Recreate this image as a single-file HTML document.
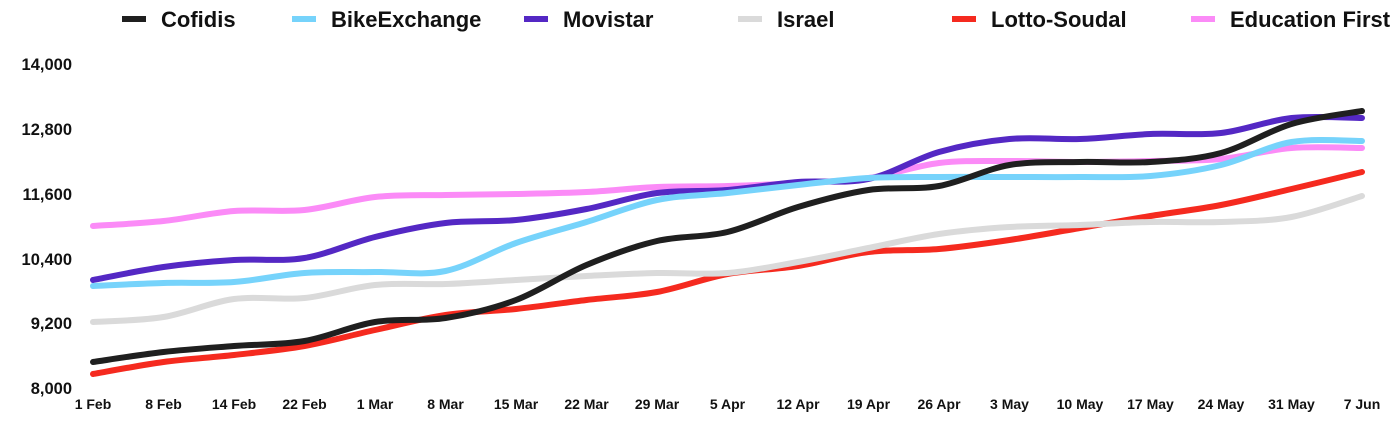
<!DOCTYPE html>
<html><head><meta charset="utf-8"><style>
body{margin:0;background:#fff;}
svg{display:block;font-family:"Liberation Sans",Arial,sans-serif;font-weight:bold;}
</style></head><body>
<svg id="s" width="1400" height="438" viewBox="0 0 1400 438">
<g font-size="22" fill="#111">
<line x1="122" y1="19" x2="146" y2="19" stroke="#1f1f1f" stroke-width="6"/><text x="161" y="27">Cofidis</text>
<line x1="292" y1="19" x2="316" y2="19" stroke="#76d3fb" stroke-width="6"/><text x="331" y="27">BikeExchange</text>
<line x1="524" y1="19" x2="548" y2="19" stroke="#5428c4" stroke-width="6"/><text x="563" y="27">Movistar</text>
<line x1="738" y1="19" x2="762" y2="19" stroke="#dadada" stroke-width="6"/><text x="777" y="27">Israel</text>
<line x1="952" y1="19" x2="976" y2="19" stroke="#f52a1f" stroke-width="6"/><text x="991" y="27">Lotto-Soudal</text>
<line x1="1191" y1="19" x2="1215" y2="19" stroke="#fb8bf7" stroke-width="6"/><text x="1230" y="27">Education First</text>
</g>
<g font-size="16.5" fill="#111" text-anchor="end">
<text x="72" y="70">14,000</text><text x="72" y="135">12,800</text><text x="72" y="200">11,600</text>
<text x="72" y="265">10,400</text><text x="72" y="329">9,200</text><text x="72" y="394">8,000</text>
</g>
<g id="xl" font-size="14" fill="#111" text-anchor="middle"></g>
<g id="lines" fill="none" stroke-width="6" stroke-linecap="round" stroke-linejoin="round"></g>
</svg>
<script>
var labels=["1 Feb","8 Feb","14 Feb","22 Feb","1 Mar","8 Mar","15 Mar","22 Mar","29 Mar","5 Apr","12 Apr","19 Apr","26 Apr","3 May","10 May","17 May","24 May","31 May","7 Jun"];
var x0=93,dx=(1362-93)/18,ns="http://www.w3.org/2000/svg";
var xl=document.getElementById("xl");
labels.forEach(function(l,i){var t=document.createElementNS(ns,"text");t.setAttribute("x",x0+i*dx);t.setAttribute("y",409);t.textContent=l;xl.appendChild(t);});
var series=[
["#fb8bf7",[226,221,211,210,197,195,194,192,187,186,183,178,163,161,162,161,159,148,148]],
["#f52a1f",[374,362,355,346,330,315,309,300,292,274,266,252,249,240,228,216,205,189,172]],
["#dadada",[322,317,299,298,285,284,280,276,273,273,262,248,234,227,225,222,222,217,196]],
["#5428c4",[280,267,260,258,237,223,220,209,193,190,182,179,152,139,139,134,133,118,118]],
["#76d3fb",[286,283,282,273,272,271,243,222,200,193,185,178,177,177,177,176,165,142,141]],
["#1f1f1f",[362,352,346,341,322,318,300,265,241,232,207,190,186,165,162,162,153,124,111]]
];
var g=document.getElementById("lines");
series.forEach(function(s){var y=s[1],p=y.map(function(v,i){return [x0+i*dx,v];});
var d="M"+p[0][0]+","+p[0][1];
for(var i=0;i<p.length-1;i++){var a=p[Math.max(i-1,0)],b=p[i],c=p[i+1],e=p[Math.min(i+2,p.length-1)];
var c1=[b[0]+(c[0]-a[0])/6,b[1]+(c[1]-a[1])/6],c2=[c[0]-(e[0]-b[0])/6,c[1]-(e[1]-b[1])/6];
d+=" C"+c1[0]+","+c1[1]+" "+c2[0]+","+c2[1]+" "+c[0]+","+c[1];}
var pa=document.createElementNS(ns,"path");pa.setAttribute("d",d);pa.setAttribute("stroke",s[0]);g.appendChild(pa);});
</script>
</body></html>
